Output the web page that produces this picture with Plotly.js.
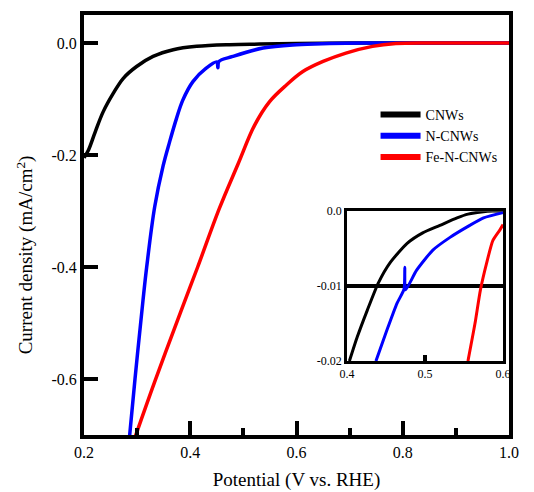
<!DOCTYPE html>
<html>
<head>
<meta charset="utf-8">
<script src="https://cdn.plot.ly/plotly-3.0.1.min.js"></script>
<style>html,body{margin:0;padding:0;background:#fff;}#chart{width:534px;height:492px;}</style>
</head>
<body>
<div id="chart"></div>
<script>
// ---- Series names / colours ----
const seriesNames = ["CNWs", "N-CNWs", "Fe-N-CNWs"];
const seriesColors = ["#000000", "#0000ff", "#ff0000"];

// ---- Main panel: potential (V vs. RHE) and current density (mA/cm2) ----
const cnwX = [0.200, 0.208, 0.221, 0.236, 0.255, 0.274, 0.299, 0.330, 0.368, 0.412, 0.474, 0.531, 0.600, 0.700, 0.850, 1.000];
const cnwY = [-0.205, -0.192, -0.159, -0.123, -0.090, -0.063, -0.042, -0.024, -0.012, -0.006, -0.003, -0.002, -0.001, 0.000, 0.000, 0.000];

const ncnwX = [0.282, 0.296, 0.311, 0.318, 0.333, 0.349, 0.361, 0.374, 0.386, 0.405, 0.430, 0.450, 0.452, 0.454, 0.480, 0.537, 0.600, 0.662, 0.725, 0.850, 1.000];
const ncnwY = [-0.740, -0.600, -0.460, -0.400, -0.293, -0.219, -0.177, -0.135, -0.102, -0.069, -0.045, -0.034, -0.044, -0.033, -0.024, -0.009, -0.003, -0.001, 0.000, 0.000, 0.000];

const fencnwX = [0.292, 0.333, 0.382, 0.414, 0.455, 0.490, 0.521, 0.549, 0.581, 0.612, 0.650, 0.693, 0.743, 0.787, 0.850, 1.000];
const fencnwY = [-0.715, -0.605, -0.480, -0.400, -0.295, -0.216, -0.147, -0.105, -0.075, -0.051, -0.033, -0.018, -0.006, -0.001, 0.000, 0.000];

// ---- Inset (zoom of onset region) ----
const cnwInX = [0.403, 0.413, 0.426, 0.440, 0.455, 0.477, 0.497, 0.519, 0.541, 0.555, 0.580, 0.600];
const cnwInY = [-0.0200, -0.0168, -0.0132, -0.0096, -0.0069, -0.0043, -0.0029, -0.0019, -0.0009, -0.0004, 0.0000, 0.0000];

const ncnwInX = [0.437, 0.451, 0.464, 0.473, 0.474, 0.475, 0.489, 0.510, 0.532, 0.554, 0.575, 0.600];
const ncnwInY = [-0.0200, -0.0159, -0.0123, -0.0104, -0.0075, -0.0105, -0.0079, -0.0052, -0.0035, -0.0021, -0.0009, -0.0002];

const fencnwInX = [0.555, 0.564, 0.571, 0.579, 0.587, 0.596, 0.600];
const fencnwInY = [-0.0200, -0.0150, -0.0105, -0.0069, -0.0039, -0.0025, -0.0018];

// ---- Tick labels ----
const xTickVals = [0.2, 0.4, 0.6, 0.8, 1.0];
const xTickText = ["0.2", "0.4", "0.6", "0.8", "1.0"];
const yTickVals = [0.0, -0.2, -0.4, -0.6];
const yTickText = ["0.0", "-0.2", "-0.4", "-0.6"];
const x2TickVals = [0.4, 0.5, 0.6];
const x2TickText = ["0.4", "0.5", "0.6"];
const y2TickVals = [0.0, -0.01, -0.02];
const y2TickText = ["0.0", "-0.01", "-0.02"];

const FONT = "'Liberation Serif', 'Times New Roman', serif";

const mainX = [cnwX, ncnwX, fencnwX];
const mainY = [cnwY, ncnwY, fencnwY];
const inX = [cnwInX, ncnwInX, fencnwInX];
const inY = [cnwInY, ncnwInY, fencnwInY];

const traces = [];
for (let i = 0; i < 3; i++) {
  traces.push({x: mainX[i], y: mainY[i], mode: "lines", name: seriesNames[i], showlegend: false,
    line: {color: seriesColors[i], width: 3.5, shape: "spline", smoothing: 1}, xaxis: "x", yaxis: "y"});
}
for (let i = 0; i < 3; i++) {
  traces.push({x: inX[i], y: inY[i], mode: "lines", name: seriesNames[i], showlegend: false,
    line: {color: seriesColors[i], width: 3, shape: "spline", smoothing: 0.6}, xaxis: "x2", yaxis: "y2"});
}
// legend entries
for (let i = 0; i < 3; i++) {
  traces.push({x: [null], y: [null], mode: "lines", name: seriesNames[i], showlegend: true,
    line: {color: seriesColors[i], width: 6}, xaxis: "x", yaxis: "y"});
}

const layout = {
  width: 534, height: 492,
  margin: {l: 84, r: 25, t: 15, b: 57},
  paper_bgcolor: "#fff", plot_bgcolor: "#fff",
  font: {family: FONT, color: "#000", size: 15},
  showlegend: true,
  legend: {x: 0.686, y: 0.80, xanchor: "left", yanchor: "top", bgcolor: "rgba(0,0,0,0)",
    font: {family: FONT, size: 14, color: "#000"}, tracegroupgap: 0, itemwidth: 40},
  xaxis: {domain: [0, 1], range: [0.2, 1.0], showline: true, linewidth: 4, linecolor: "#000", mirror: true,
    ticks: "inside", ticklen: 14, tickwidth: 4, tickcolor: "#000",
    tickvals: xTickVals, ticktext: xTickText, showgrid: false, zeroline: false,
    minor: {ticks: "inside", ticklen: 7, tickwidth: 4, tickcolor: "#000", dtick: 0.1, tick0: 0.1, showgrid: false},
    tickfont: {family: FONT, size: 16},
    title: {text: "Potential (V vs. RHE)", font: {family: FONT, size: 19}, standoff: 13}},
  yaxis: {domain: [0, 1], range: [-0.7, 0.05], showline: true, linewidth: 4, linecolor: "#000", mirror: true,
    ticks: "inside", ticklen: 14, tickwidth: 4, tickcolor: "#000",
    tickvals: yTickVals, ticktext: yTickText, showgrid: false, zeroline: false,
    tickfont: {family: FONT, size: 16}},
  xaxis2: {domain: [0.619, 0.986], anchor: "y2", range: [0.4, 0.6], showline: true, linewidth: 3, linecolor: "#000", mirror: true,
    ticks: "inside", ticklen: 6, tickwidth: 4, tickcolor: "#000",
    tickvals: x2TickVals, ticktext: x2TickText, showgrid: false, zeroline: false,
    tickfont: {family: FONT, size: 12}},
  yaxis2: {domain: [0.176, 0.533], anchor: "x2", range: [-0.02, 0.0], showline: true, linewidth: 3, linecolor: "#000", mirror: true,
    ticks: "", tickvals: y2TickVals, ticktext: y2TickText, showgrid: true, gridcolor: "#000", gridwidth: 3.5, zeroline: false,
    tickfont: {family: FONT, size: 12}},
  annotations: [{
    text: "Current density (mA/cm<sup>2</sup>)", textangle: -90, showarrow: false,
    xref: "paper", yref: "paper", x: -0.139, y: 0.43, xanchor: "center", yanchor: "middle",
    font: {family: FONT, size: 19, color: "#000"}
  }]
};

Plotly.newPlot("chart", traces, layout, {staticPlot: true, displayModeBar: false});
</script>
</body>
</html>
